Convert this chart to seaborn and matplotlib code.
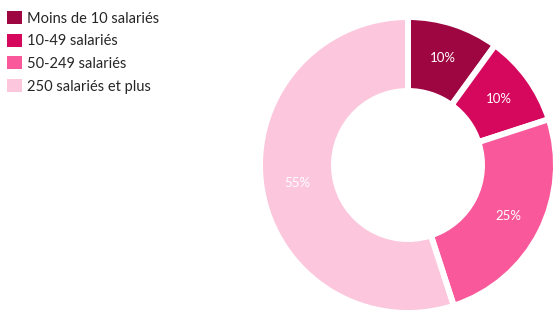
import matplotlib
matplotlib.use("Agg")
import matplotlib.pyplot as plt
import seaborn as sns

# données
categories = ["Moins de 10 salariés", "10-49 salariés", "50-249 salariés", "250 salariés et plus"]
valeurs = [10, 10, 25, 55]
couleurs = ["#9e0642", "#d6085e", "#f9599a", "#fcc6dc"]

sns.set_theme(style="white")
plt.rcParams['font.family'] = ['Lato', 'DejaVu Sans']

W, H = 554, 315
fig = plt.figure(figsize=(W / 100, H / 100), dpi=100)
fig.patch.set_facecolor("white")

# donut centré en (408, 165) px, rayon 148 px
cx, cy, r = 408, 165, 148
ax = fig.add_axes([(cx - r) / W, (H - cy - r) / H, 2 * r / W, 2 * r / H])

palette = sns.color_palette(couleurs)
wedges, texts, autotexts = ax.pie(
    valeurs,
    colors=palette,
    startangle=90,
    counterclock=False,
    radius=1,
    autopct=lambda p: f"{p:.0f}%",
    pctdistance=0.76,
    wedgeprops=dict(width=0.5, edgecolor="white", linewidth=4.3),
    textprops=dict(color="white", fontsize=9.5),
)
ax.set_xlim(-1, 1)
ax.set_ylim(-1, 1)
ax.set_aspect("equal")
ax.axis("off")

leg = fig.legend(
    wedges, categories,
    loc="upper left",
    bbox_to_anchor=(7 / W, 1 - 11 / H),
    frameon=False,
    fontsize=10.5,
    handlelength=1.0,
    handleheight=1.0,
    handletextpad=0.4,
    labelspacing=0.56,
    borderpad=0,
    borderaxespad=0,
)
for h in leg.legend_handles:
    h.set_linewidth(0)

fig.savefig("out.png", dpi=100)
